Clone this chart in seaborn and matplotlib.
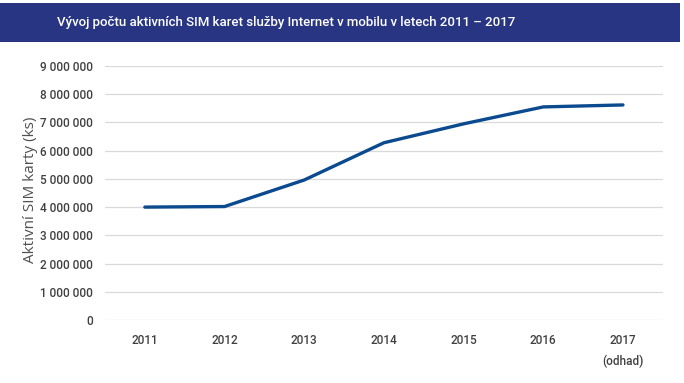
import matplotlib
matplotlib.use("Agg")
import matplotlib.pyplot as plt
import seaborn as sns
import pandas as pd
from matplotlib.patches import Rectangle
from matplotlib.ticker import FuncFormatter

years = ["2011", "2012", "2013", "2014", "2015", "2016", "2017\n(odhad)"]
sim_cards = [4000000, 4020000, 4960000, 6280000, 6950000, 7550000, 7620000]
title = "Vývoj počtu aktivních SIM karet služby Internet v mobilu v letech 2011 – 2017"
ylabel = "Aktivní SIM karty (ks)"

sns.set_theme(style="white")
plt.rcParams['font.family'] = ['Roboto', 'DejaVu Sans']

df = pd.DataFrame({"year": years, "value": sim_cards, "pos": range(len(years))})

fig = plt.figure(figsize=(6.84, 3.83), dpi=100)
ax = fig.add_axes([0.1535, 0.1645, 0.969 - 0.1535, 0.8277 - 0.1645])

sns.lineplot(data=df, x="pos", y="value", ax=ax, color="#0b4a8e", linewidth=2.4)

ax.set_xlim(-0.5, 6.5)
ax.set_ylim(0, 9000000)
ax.set_yticks(range(0, 9000001, 1000000))
ax.yaxis.set_major_formatter(FuncFormatter(lambda v, p: f"{int(v):,}".replace(",", " ")))
ax.set_xticks(range(len(years)))
ax.set_xticklabels(years, linespacing=1.75)
ax.grid(axis="y", color="#d9d9d9", linewidth=0.9)
ax.grid(axis="x", visible=False)
for s in ax.spines.values():
    s.set_visible(False)
ax.tick_params(axis="y", colors="#404040", labelsize=8.5, pad=8.5, length=0)
ax.tick_params(axis="x", colors="#404040", labelsize=8.5, pad=10, length=0)
for lab in ax.get_xticklabels() + ax.get_yticklabels():
    lab.set_fontweight("medium")
ax.set_xlabel("")
ax.set_ylabel("")
fig.text(31 / 684, 1 - 190 / 383, ylabel, rotation=90, fontsize=11, color="#505050",
         family=['Open Sans', 'DejaVu Sans'], ha="center", va="center")

fig.patches.append(Rectangle((0, 0.890), 0.994, 0.102, transform=fig.transFigure,
                             facecolor="#283583", edgecolor="none", zorder=0))
fig.text(0.083, 0.941, title, color="white", fontsize=9.5, fontweight="medium",
         va="center", ha="left")

fig.savefig("out.png", dpi=100)
